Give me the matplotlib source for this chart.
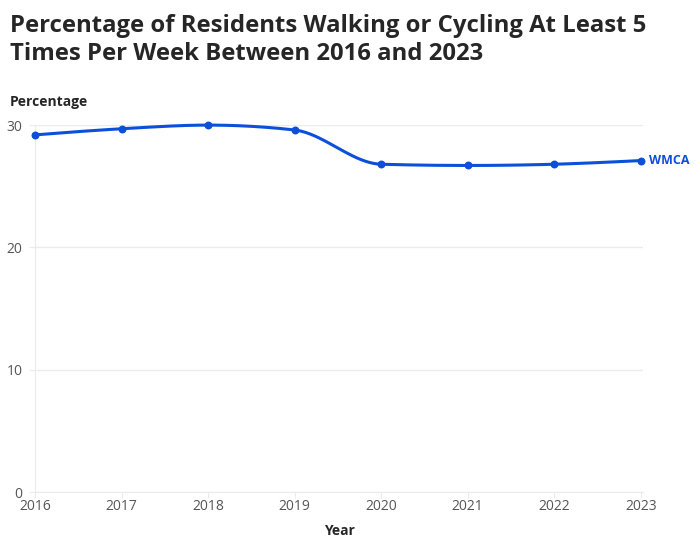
import matplotlib.pyplot as plt
import numpy as np

years = [2016, 2017, 2018, 2019, 2020, 2021, 2022, 2023]
pct = [29.2, 29.7, 30.0, 29.6, 26.8, 26.7, 26.8, 27.1]
series_name = "WMCA"
y_ticks = [0, 10, 20, 30]

BLUE = "#0b4fdb"
TEXT = "#262626"
TICK = "#555555"
GRID = "#ebebeb"


# monotone cubic (like d3 curveMonotoneX) for a smooth line through the points
def monotone(x, y, n=40):
    x = np.asarray(x, float)
    y = np.asarray(y, float)
    h = np.diff(x)
    d = np.diff(y) / h
    m = np.zeros_like(y)
    for i in range(1, len(y) - 1):
        if d[i - 1] * d[i] > 0:
            p = (d[i - 1] * h[i] + d[i] * h[i - 1]) / (h[i - 1] + h[i])
            m[i] = np.sign(d[i]) * min(abs(d[i - 1]), abs(d[i]), 0.5 * abs(p)) * 2
    m[0] = (3 * d[0] - m[1]) / 2
    m[-1] = (3 * d[-1] - m[-2]) / 2
    xs, ys = [], []
    for i in range(len(h)):
        t = np.linspace(0, 1, n)
        h00 = 2 * t**3 - 3 * t**2 + 1
        h10 = t**3 - 2 * t**2 + t
        h01 = -2 * t**3 + 3 * t**2
        h11 = t**3 - t**2
        xs.append(x[i] + t * h[i])
        ys.append(h00 * y[i] + h10 * h[i] * m[i] + h01 * y[i + 1] + h11 * h[i] * m[i + 1])
    return np.concatenate(xs), np.concatenate(ys)


plt.rcParams['font.family'] = ['Open Sans', 'DejaVu Sans']

fig = plt.figure(figsize=(7, 5.56), dpi=100)
ax = fig.add_axes([0.05, 0.115, 0.869, 0.66])

xs, ys = monotone(years, pct)
ax.plot(xs, ys, color=BLUE, lw=2.2, solid_capstyle='round', zorder=3, clip_on=False)
ax.scatter(years, pct, color=BLUE, s=22, zorder=4, clip_on=False)
ax.text(years[-1] + 0.1, pct[-1], series_name, color=BLUE, fontsize=9,
        fontweight='bold', va='center', ha='left')

ax.set_xlim(2016, 2023.03)
ax.set_ylim(0, 30)
ax.set_xticks(years)
ax.set_xticklabels([str(y) for y in years])
ax.set_yticks(y_ticks)
ax.grid(axis='y', color=GRID, lw=1)
ax.set_axisbelow(True)
for s in ['top', 'right']:
    ax.spines[s].set_visible(False)
ax.spines['left'].set_color(GRID)
ax.spines['bottom'].set_color(GRID)
ax.tick_params(axis='both', colors=GRID, labelcolor=TICK, labelsize=10, length=4)
ax.tick_params(axis='y', pad=5)
ax.tick_params(axis='x', pad=1)

ax.set_xlabel("Year", fontsize=10, fontweight='bold', color=TEXT, labelpad=7)
fig.text(0.014, 0.817, "Percentage", fontsize=10, fontweight='bold', color=TEXT, va='center')

fig.text(0.014, 0.975, "Percentage of Residents Walking or Cycling At Least 5\nTimes Per Week Between 2016 and 2023",
         fontsize=17.2, fontweight='bold', color=TEXT, va='top', linespacing=1.25)

fig.savefig("out.png", dpi=100)
